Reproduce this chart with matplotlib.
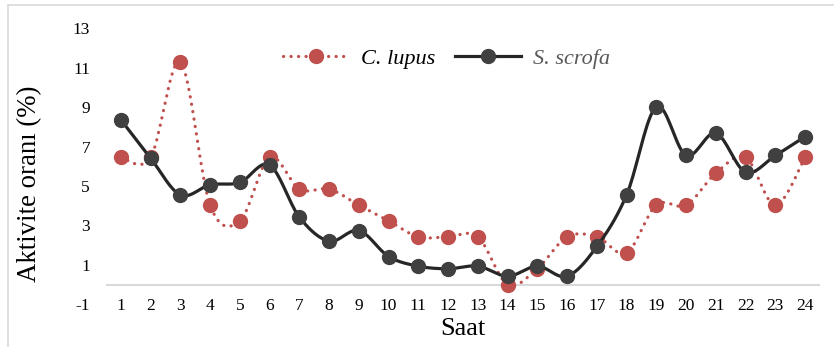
import numpy as np
import matplotlib
matplotlib.use("Agg")
import matplotlib.pyplot as plt
from matplotlib.patches import Rectangle

# Hourly activity share (%) for the two species
hours = list(range(1, 25))
c_lupus = [6.45, 6.45, 11.29, 4.03, 3.23, 6.45, 4.84, 4.84, 4.03, 3.23, 2.42, 2.42,
           2.42, 0.00, 0.81, 2.42, 2.42, 1.61, 4.03, 4.03, 5.65, 6.45, 4.03, 6.45]
s_scrofa = [8.36, 6.41, 4.55, 5.06, 5.18, 6.06, 3.42, 2.20, 2.74, 1.42, 0.93, 0.80,
            0.93, 0.42, 0.93, 0.42, 1.93, 4.55, 9.02, 6.55, 7.68, 5.70, 6.55, 7.51]
y_ticks = [-1, 1, 3, 5, 7, 9, 11, 13]
x_labels = [str(h) for h in hours]

RED = "#C0504D"
DARK = "#404040"
LINE_DARK = "#262626"
GRID = "#D9D9D9"
DOTS = (0, (0.05, 2.3))

plt.rcParams["font.family"] = ["Liberation Serif", "DejaVu Serif"]


def smooth(x, y, n=20):
    """Catmull-Rom style Bezier smoothing through every point."""
    x = np.asarray(x, float)
    y = np.asarray(y, float)
    px = np.concatenate([[x[0]], x, [x[-1]]])
    py = np.concatenate([[y[0]], y, [y[-1]]])
    xs, ys = [], []
    t = np.linspace(0, 1, n)
    for i in range(1, len(px) - 2):
        p0 = np.array([px[i], py[i]])
        p3 = np.array([px[i + 1], py[i + 1]])
        c1 = p0 + (np.array([px[i + 1], py[i + 1]]) - np.array([px[i - 1], py[i - 1]])) / 6
        c2 = p3 - (np.array([px[i + 2], py[i + 2]]) - np.array([px[i], py[i]])) / 6
        b = ((1 - t) ** 3)[:, None] * p0 + (3 * (1 - t) ** 2 * t)[:, None] * c1 \
            + (3 * (1 - t) * t ** 2)[:, None] * c2 + (t ** 3)[:, None] * p3
        xs.extend(b[:, 0])
        ys.extend(b[:, 1])
    return np.array(xs), np.array(ys)


W, H = 834, 347
fig = plt.figure(figsize=(W / 100, H / 100), dpi=100)
ax = fig.add_axes([106 / W, 1 - 304.2 / H, (820 - 106) / W, (304.2 - 28.4) / H])

ax.axhline(0, color=GRID, lw=1.5, zorder=1)

sx, sy = smooth(hours, c_lupus)
ax.plot(sx, sy, color=RED, lw=2.3, linestyle=DOTS,
        dash_capstyle="round", zorder=2)
ax.plot(hours, c_lupus, linestyle="none", marker="o", ms=10, color=RED,
        markeredgecolor=RED, zorder=3)

sx, sy = smooth(hours, s_scrofa)
ax.plot(sx, sy, color=LINE_DARK, lw=2.3, zorder=4)
ax.plot(hours, s_scrofa, linestyle="none", marker="o", ms=10, color=DARK,
        markeredgecolor=DARK, zorder=5)

ax.set_xlim(0.5, 24.5)
ax.set_ylim(-1, 13)
ax.set_yticks(y_ticks)
ax.set_yticklabels([str(v) for v in y_ticks])
ax.tick_params(axis="y", length=0, pad=11.5, labelsize=12.5)
ax.set_xticks([])
for h, lab in zip(hours, x_labels):
    ax.text(h, -1, lab, ha="center", va="center_baseline", fontsize=12.5)
for s in ax.spines.values():
    s.set_visible(False)

# Legend handles
h1, = ax.plot([], [], color=RED, lw=2.3, linestyle=DOTS,
              dash_capstyle="round", marker="o", ms=10, markeredgecolor=RED)
h2, = ax.plot([], [], color=LINE_DARK, lw=2.3, marker="o", ms=10,
              markerfacecolor=DARK, markeredgecolor=DARK)
leg = fig.legend([h1, h2], ["C. lupus", "S. scrofa"], loc="center left",
                 bbox_to_anchor=(283 / W, 1 - 59 / H), ncol=2, frameon=False,
                 borderpad=0, borderaxespad=0, handlelength=2.95,
                 handletextpad=0.55, columnspacing=0.9, numpoints=1,
                 prop={"style": "italic", "size": 16})
leg.get_texts()[1].set_color("#595959")

fig.text(30 / W, 1 - 183.5 / H, "Aktivite oranı (%)", rotation=90,
         ha="center", va="center", fontsize=19.3)
fig.text(463 / W, 1 - 329 / H, "Saat", ha="center", va="center", fontsize=19)

fig.add_artist(Rectangle((8 / W, -0.2), 1.2, (H - 5) / H + 0.2,
                         transform=fig.transFigure, fill=False,
                         edgecolor=GRID, lw=1.2))

fig.savefig("out.png", dpi=100)
